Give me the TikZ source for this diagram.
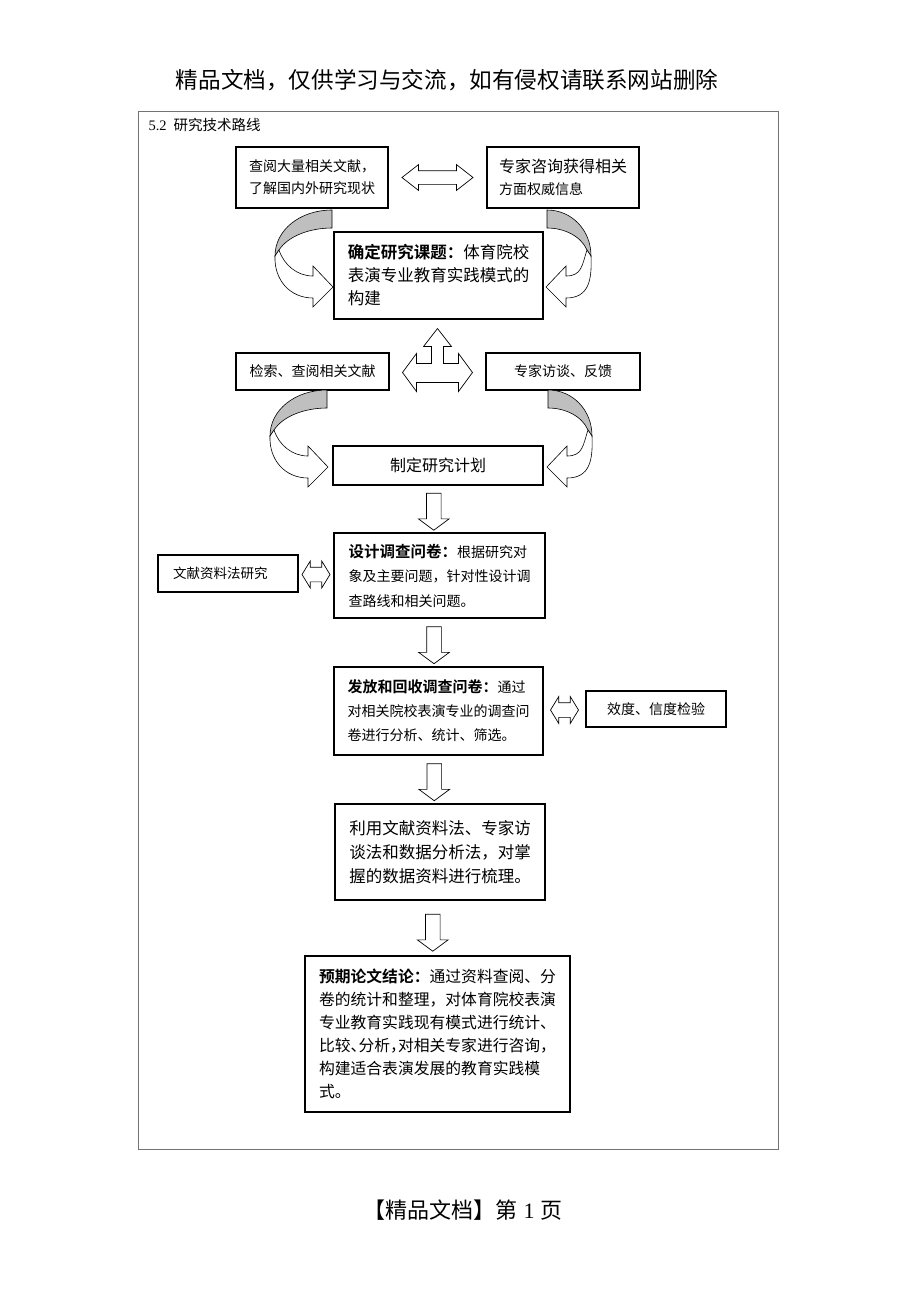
\documentclass[tikz,border=0pt]{standalone}
\usepackage{fontspec}
\setmainfont{Noto Sans CJK SC}[BoldFont={Noto Sans CJK SC Bold}]
\newfontfamily\romfont{Liberation Serif}
\usetikzlibrary{shapes.arrows,calc}

\tikzset{
	box/.style={draw, line width=1.3pt, inner sep=0pt, align=left},
	downarrow/.style={single arrow, draw, line width=0.7pt, rotate=-90, inner xsep=0pt, inner ysep=7pt,
		minimum height=37pt, single arrow head extend=8pt, single arrow tip angle=107},
	widearrow/.style={double arrow, draw, line width=0.7pt, inner xsep=0pt, inner ysep=6.5pt,
		minimum height=71pt, double arrow head extend=6pt, double arrow tip angle=76},
	smallarrow/.style={double arrow, draw, line width=0.7pt, inner xsep=0pt, inner ysep=7pt,
		minimum height=28pt, double arrow head extend=6pt, double arrow tip angle=117},
	bentarrow/.pic={
		\filldraw[fill=black!25, line width=0.6pt] (0,0) .. controls ({-0.56*#1},0) and ({-#1},20) .. ({-#1},46)
			-- ({-#1+4},40) .. controls ({-0.77*#1},26) and ({-0.39*#1},18) .. (0,18) -- cycle;
		\filldraw[fill=white, line width=0.6pt] ({-#1+4},40) .. controls ({-#1+9},55) and (-35,66) .. (-19,66)
			-- (-19,56) -- (1,77) -- (-19,97) -- (-19,88) .. controls (-42,88) and ({-#1-1},70) .. ({-#1},46) -- cycle;
	}
}

\begin{document}
\begin{tikzpicture}[x=1pt, y=-1pt]
	\useasboundingbox (0,0) rectangle (920,1302);
	% page texts and frame
	\node[font=\fontsize{22.6}{24}\selectfont] (header) at (447,80) {精品文档，仅供学习与交流，如有侵权请联系网站删除};
	\node[font=\fontsize{22}{24}\selectfont] (footer) at (463,1210) {【精品文档】第\hspace{6pt}{\romfont 1}\hspace{6pt}页};
	\draw[black!55, line width=0.9pt] (138,111) rectangle (778,1149);
	\node[anchor=west, font=\fontsize{14.5}{16}\selectfont] (title) at (145,125) {{\romfont 5.2}\hspace{7pt}研究技术路线};

	% boxes
	\node[box, minimum width=152, minimum height=61, font=\fontsize{14}{22}\selectfont] (A) at (312,177.5)
		{查阅大量相关文献，\\了解国内外研究现状};
	\node[box, minimum width=152, minimum height=61, font=\fontsize{14}{22}\selectfont] (B) at (563,177.5)
		{{\fontsize{16}{22}\selectfont 专家咨询获得相关}\\方面权威信息};
	\node[box, minimum width=209, minimum height=87, font=\fontsize{16.5}{23}\selectfont] (C) at (438.5,275.5)
		{\textbf{确定研究课题：}体育院校\\表演专业教育实践模式的\\构建};
	\node[box, minimum width=153, minimum height=37, font=\fontsize{14}{20}\selectfont] (D) at (312.5,371.5) {检索、查阅相关文献};
	\node[box, minimum width=154, minimum height=37, font=\fontsize{14}{20}\selectfont] (E) at (563,371.5) {专家访谈、反馈};
	\node[box, minimum width=210, minimum height=39, font=\fontsize{16}{20}\selectfont] (F) at (438,465.5) {制定研究计划};
	\node[box, minimum width=211, minimum height=85, font=\fontsize{14}{24.5}\selectfont] (G) at (439.5,575.5)
		{{\fontsize{15.5}{24.5}\selectfont\textbf{设计调查问卷：}}根据研究对\\象及主要问题，针对性设计调\\查路线和相关问题。};
	\node[box, minimum height=37, inner xsep=15pt, text width=110pt, font=\fontsize{13.5}{20}\selectfont] (H) at (228,573.5) {文献资料法研究};
	\node[box, minimum width=209, minimum height=88, font=\fontsize{14}{24}\selectfont] (I) at (438.5,711)
		{{\fontsize{15}{24}\selectfont\textbf{发放和回收调查问卷：}}通过\\对相关院校表演专业的调查问\\卷进行分析、统计、筛选。};
	\node[box, minimum width=140, minimum height=36, font=\fontsize{14}{20}\selectfont] (J) at (656,709) {效度、信度检验};
	\node[box, minimum width=210, minimum height=96, font=\fontsize{16.5}{24}\selectfont] (K) at (440,852)
		{利用文献资料法、专家访\\谈法和数据分析法，对掌\\握的数据资料进行梳理。};
	\node[box, minimum width=265, minimum height=156, font=\fontsize{15.8}{23}\selectfont] (L) at (437.5,1034)
		{\textbf{预期论文结论：}通过资料查阅、分\\卷的统计和整理，对体育院校表演\\专业教育实践现有模式进行统计、\\{\addfontfeature{RawFeature=+halt}比较、分析，对相关专家进行咨询，}\\构建适合表演发展的教育实践模\\式。};

	% curved arrows
	\pic at (332,210) {bentarrow=57};
	\pic[xscale=-1] at (547,210) {bentarrow=44};
	\pic at (327,390) {bentarrow=57};
	\pic[xscale=-1] at (548,390) {bentarrow=44};

	% three-way arrow
	\coordinate (hub) at ($(D.east)!.5!(E.west)$);
	\draw[line width=0.7pt, shift={(hub)}] (0,-43) -- (14,-25) -- (6,-25) -- (6,-8) -- (21,-8) -- (21,-18) -- (35,1)
		-- (21,20) -- (21,11) -- (-21,11) -- (-21,20) -- (-35,1) -- (-21,-18) -- (-21,-8) -- (-6,-8) -- (-6,-25) -- (-14,-25) -- cycle;

	% block arrows
	\node[widearrow] (AB) at ($(A.east)!.5!(B.west)$) {};
	\node[smallarrow] (HG) at ($(H.east)!.5!(G.west)$) {};
	\node[smallarrow] (IJ) at ($(I.east)!.5!(J.west)$) {};
	\node[downarrow] (FG) at ($(F.south)!.5!(G.north)+(-5,0)$) {};
	\node[downarrow] (GI) at ($(G.south)!.5!(I.north)+(-5,0)$) {};
	\node[downarrow] (IK) at ($(I.south)!.5!(K.north)+(-5,0)$) {};
	\node[downarrow] (KL) at ($(K.south)!.5!(L.north)+(-6,2)$) {};
\end{tikzpicture}
\end{document}
